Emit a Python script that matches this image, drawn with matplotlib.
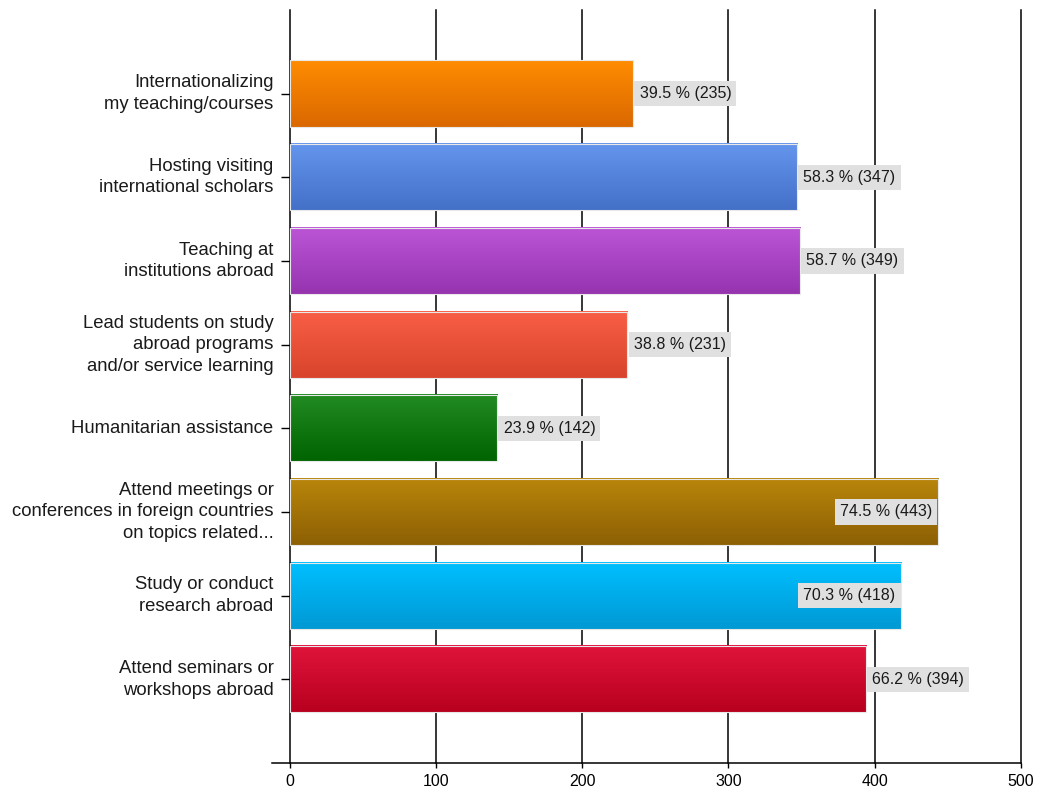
import numpy as np
import matplotlib.pyplot as plt
from matplotlib.colors import LinearSegmentedColormap

plt.rcParams['font.family'] = ['Liberation Sans', 'DejaVu Sans']

# survey answers, top to bottom
categories = [
    'Internationalizing\nmy teaching/courses',
    'Hosting visiting\ninternational scholars',
    'Teaching at\ninstitutions abroad',
    'Lead students on study\nabroad programs\nand/or service learning',
    'Humanitarian assistance',
    'Attend meetings or\nconferences in foreign countries\non topics related...',
    'Study or conduct\nresearch abroad',
    'Attend seminars or\nworkshops abroad',
]
counts = [235, 347, 349, 231, 142, 443, 418, 394]
percents = [39.5, 58.3, 58.7, 38.8, 23.9, 74.5, 70.3, 66.2]
xticks = [0, 100, 200, 300, 400, 500]

# (top colour, bottom colour) for the shaded bars
bar_colors = [
    ('#ff8c00', '#da6800'),
    ('#6495ed', '#4470c8'),
    ('#bb55d6', '#9634b0'),
    ('#f85e45', '#d8452c'),
    ('#228b22', '#006400'),
    ('#b8860b', '#8d6004'),
    ('#00bfff', '#0099d4'),
    ('#e0143c', '#b8001e'),
]

fig = plt.figure(figsize=(10.38, 7.94), dpi=100)
ax = fig.add_axes([272 / 1038, 0.039, 749 / 1038, 0.9486])

n = len(categories)
pos = np.arange(n, 0, -1)
h = 0.79
xmax = xticks[-1]
xmin = -12

for x in xticks[1:]:
    ax.axvline(x, color='black', lw=1.1, zorder=0, clip_on=False)

grad = np.linspace(0, 1, 64).reshape(-1, 1)
box = dict(boxstyle='square,pad=0.32', fc='#e0e0e0', ec='none')
for y, v, (c1, c2), p in zip(pos, counts, bar_colors, percents):
    cmap = LinearSegmentedColormap.from_list('g', [c1, c2])
    ax.imshow(grad, cmap=cmap, aspect='auto', origin='upper',
              extent=[0, v, y - h / 2, y + h / 2], zorder=2)
    ax.barh(y, v, height=h, facecolor='none', edgecolor='#e8e8e8',
            lw=0.8, zorder=3)
    label = f'{p} % ({v})'
    # labels that would run past the last gridline go inside the bar
    if v > 400:
        ax.annotate(label, (v, y), xytext=(-4, 0), textcoords='offset points',
                    ha='right', va='center', fontsize=11.5, color='#1a1a1a',
                    bbox=box, zorder=4)
    else:
        ax.annotate(label, (v, y), xytext=(4.5, 0), textcoords='offset points',
                    ha='left', va='center', fontsize=11.5, color='#1a1a1a',
                    bbox=box, zorder=4)

ax.set_xlim(xmin, xmax)
ax.set_ylim(0, n + 1)

ax.tick_params(axis='x', length=3.5, width=1, pad=4.5, labelsize=11.5)
ax.tick_params(axis='y', length=6.5, width=1, labelleft=False)
ax.set_xticks(xticks)
ax.set_yticks(pos)

# category names drawn by hand so the line spacing can be opened up
for y, name in zip(pos, categories):
    ax.annotate(name, (0, y), xytext=(-11.5, 0), textcoords='offset points',
                ha='right', va='center', multialignment='right',
                fontsize=13.3, linespacing=1.35, color='#1a1a1a',
                annotation_clip=False)

for s in ['top', 'right']:
    ax.spines[s].set_visible(False)
ax.spines['left'].set_position(('data', 0))
ax.spines['left'].set_linewidth(1.1)
ax.spines['bottom'].set_linewidth(1.1)

fig.savefig('out.png', dpi=100, facecolor='white')
